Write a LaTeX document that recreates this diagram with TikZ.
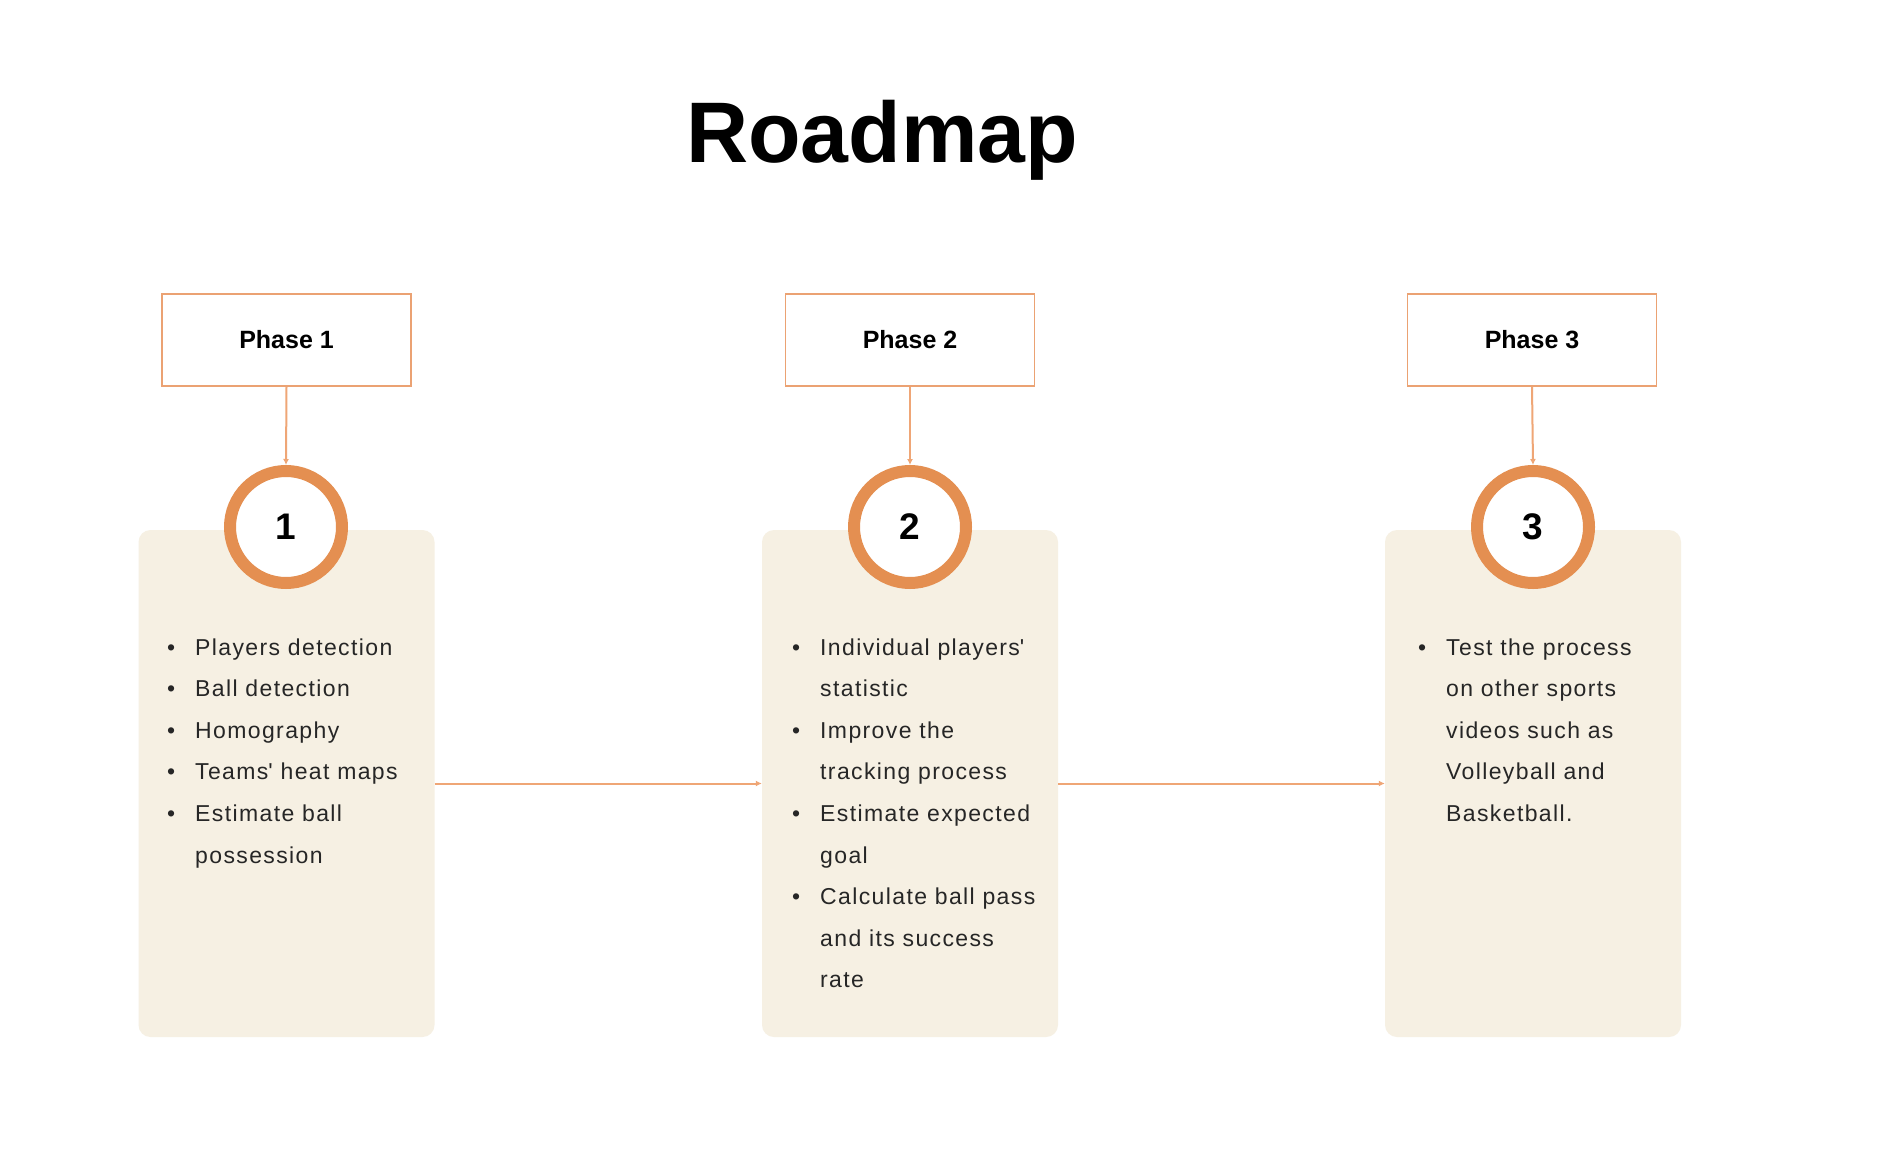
\documentclass[tikz,border=0pt]{standalone}
\usepackage{fontspec}
\setmainfont{Liberation Sans}
\newfontfamily\bodyfont[LetterSpace=6]{Liberation Sans}
\usetikzlibrary{arrows.meta}
\definecolor{ringc}{HTML}{E48F51}
\definecolor{panelc}{HTML}{F6F0E3}
\definecolor{boxc}{HTML}{EBA273}
\definecolor{linec}{HTML}{EFA676}
\definecolor{txtc}{HTML}{262626}
\tikzset{
  phasebox/.style={draw=boxc, line width=1.6pt, fill=white, minimum width=249pt, minimum height=92pt, inner sep=0pt, font=\fontsize{25}{30}\selectfont\bfseries},
  ring/.style={circle, draw=ringc, line width=12pt, fill=white, minimum size=112pt, inner sep=0pt, font=\fontsize{37}{40}\selectfont\bfseries},
  panel/.style={fill=panelc, rounded corners=12pt, minimum width=296pt, minimum height=507pt, inner sep=0pt},
  item/.style={anchor=base west, inner sep=0pt, text=txtc, font=\bodyfont\fontsize{23}{28}\selectfont},
  conn/.style={draw=linec, line width=2pt, -{Latex[length=6pt,width=6pt]}},
}
\newcommand{\bul}{\makebox[28pt][l]{\textbullet}}
\begin{document}
\begin{tikzpicture}[x=1pt,y=-1pt]
\path[use as bounding box, fill=white] (0,0) rectangle (1900,1174);
\node[anchor=base, inner sep=0pt, font=\fontsize{86}{90}\selectfont\bfseries] (title) at (882,163) {Roadmap};
% panels
\node[panel] (p1) at (286.5,783.5) {};
\node[panel] (p2) at (910,783.5) {};
\node[panel] (p3) at (1533,783.5) {};
% phase boxes
\node[phasebox] (ph1) at (286.5,340) {Phase 1};
\node[phasebox] (ph2) at (910,340) {Phase 2};
\node[phasebox] (ph3) at (1532,340) {Phase 3};
% rings
\node[ring] (c1) at (286,527) {1};
\node[ring] (c2) at (910,527) {2};
\node[ring] (c3) at (1533,527) {3};
% connectors
\draw[conn] (ph1.south) -- (c1.north);
\draw[conn] (ph2.south) -- (c2.north);
\draw[conn] (ph3.south) -- (c3.north);
\draw[conn] (p1.east) -- (p2.west);
\draw[conn] (p2.east) -- (p3.west);
% panel 1 text
\node[item] (a1) at (167,655) {\bul Players detection};
\node[item] (a2) at (167,696.6) {\bul Ball detection};
\node[item] (a3) at (167,738.2) {\bul Homography};
\node[item] (a4) at (167,779.8) {\bul Teams\textquotesingle{} heat maps};
\node[item] (a5) at (167,821.4) {\bul Estimate ball};
\node[item] (a6) at (195,863) {possession};
% panel 2 text
\node[item] (b1) at (792,655) {\bul Individual players\textquotesingle};
\node[item] (b2) at (820,696.6) {statistic};
\node[item] (b3) at (792,738.2) {\bul Improve the};
\node[item] (b4) at (820,779.8) {tracking process};
\node[item] (b5) at (792,821.4) {\bul Estimate expected};
\node[item] (b6) at (820,863) {goal};
\node[item] (b7) at (792,904.6) {\bul Calculate ball pass};
\node[item] (b8) at (820,946.2) {and its success};
\node[item] (b9) at (820,987.8) {rate};
% panel 3 text
\node[item] (d1) at (1418,655) {\bul Test the process};
\node[item] (d2) at (1446,696.6) {on other sports};
\node[item] (d3) at (1446,738.2) {videos such as};
\node[item] (d4) at (1446,779.8) {Volleyball and};
\node[item] (d5) at (1446,821.4) {Basketball.};
\end{tikzpicture}
\end{document}
